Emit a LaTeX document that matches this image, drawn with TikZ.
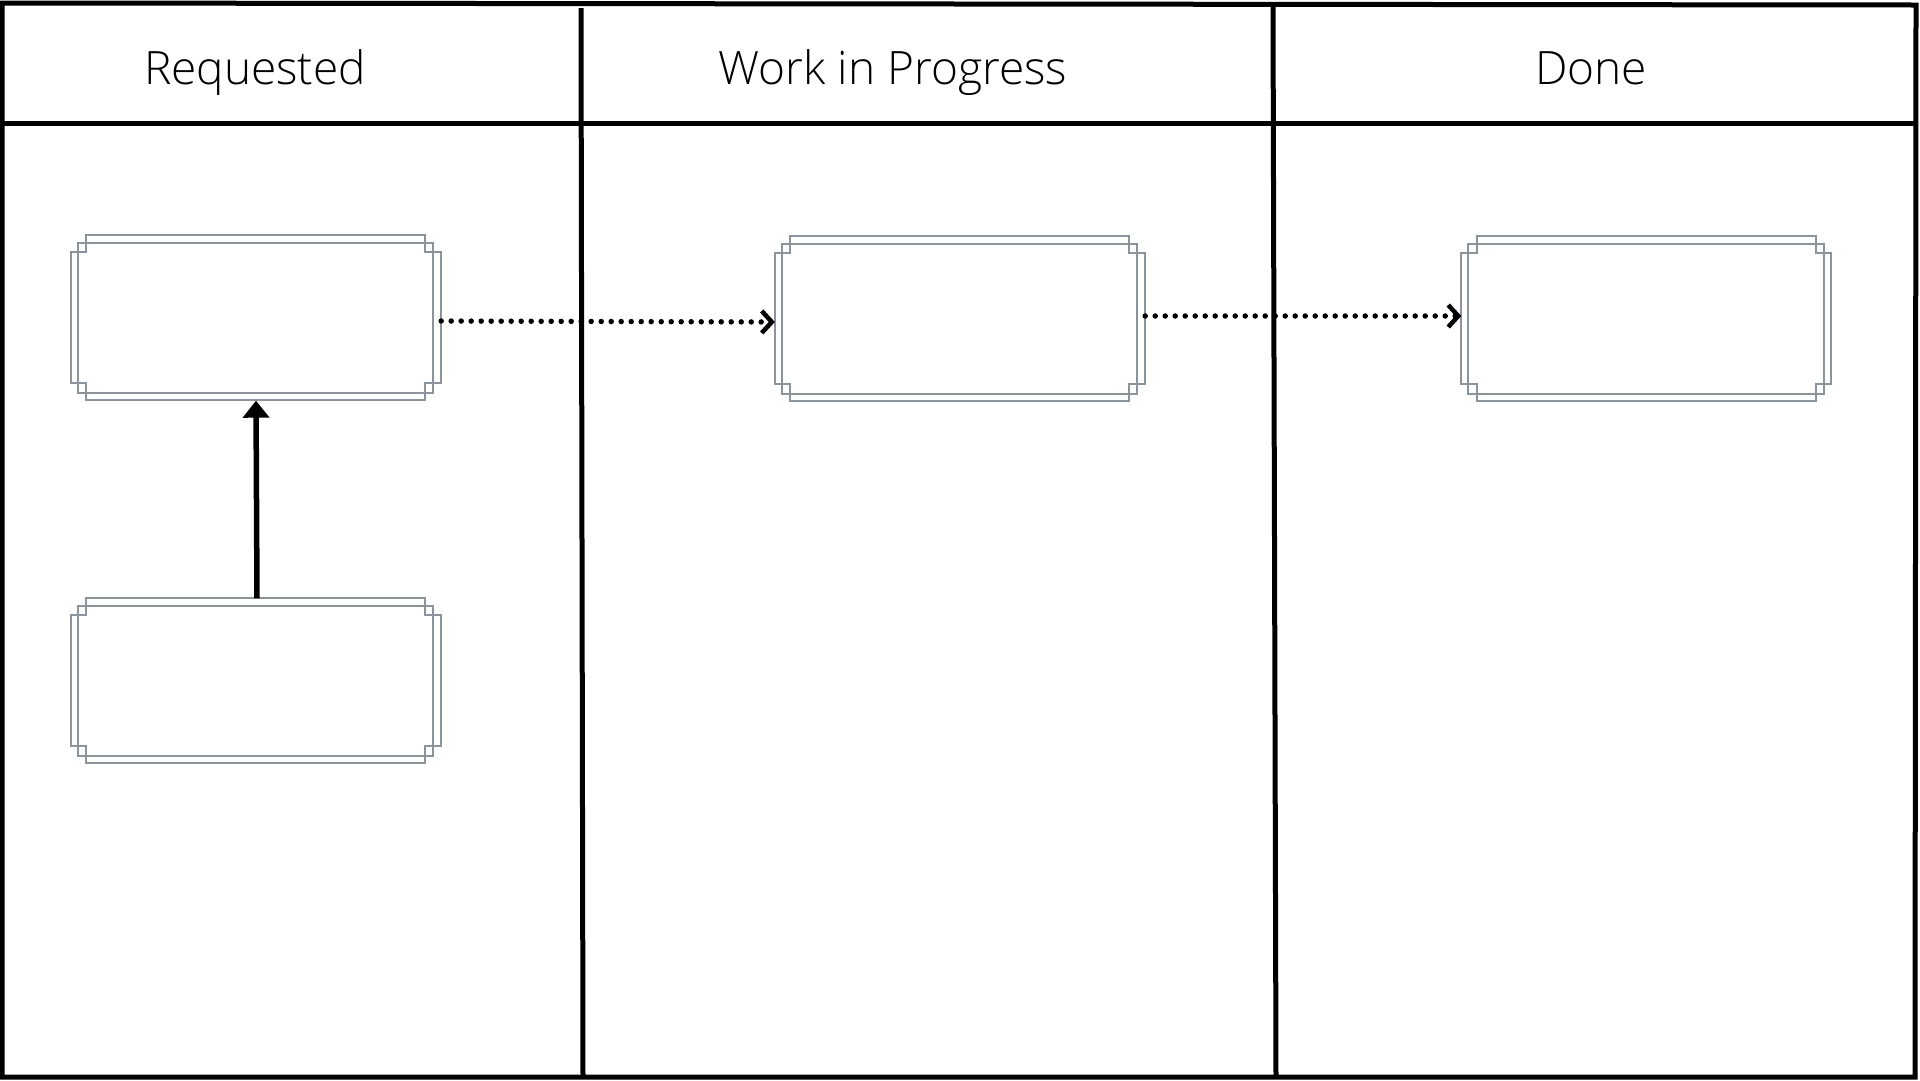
\documentclass[tikz,border=0pt]{standalone}
\usepackage{fontspec}
\setmainfont{Open Sans}
\newfontfamily\lightfont{Open Sans Light}
\usepackage{xcolor}
\usetikzlibrary{calc,arrows.meta}

\definecolor{cardgrey}{RGB}{138,148,158}

\tikzset{
  lane/.style={line width=5pt, line join=miter},
  card/.style={minimum width=370pt, minimum height=165pt, inner sep=0pt},
  cardline/.style={draw=cardgrey, line width=2pt},
  head/.style={anchor=base, font=\lightfont\fontsize{46}{56}\selectfont},
  move/.style={line width=5.5pt, dash pattern=on 0pt off 10pt, line cap=round,
    -{Straight Barb[length=10pt,width=22pt,line width=4.5pt]}},
  push/.style={line width=5.5pt, -{Triangle[length=17pt,width=26pt]}}
}

% a card: notched outer frame and an inner rectangle
\newcommand{\kcard}[2]{%
  \node[card] (#1) at (#2) {};
  \draw[cardline] ($(#1.north west)+(15.5,0)$) -- ++(339,0) -- ++(0,17) -- ++(15.5,0)
    -- ++(0,131) -- ++(-15.5,0) -- ++(0,17) -- ++(-339,0) -- ++(0,-17)
    -- ++(-15.5,0) -- ++(0,-131) -- ++(15.5,0) -- cycle;
  \draw[cardline] ($(#1.north west)+(7,8)$) rectangle ($(#1.south east)+(-8,-8)$);
}

\begin{document}
\begin{tikzpicture}[x=1pt,y=-1pt]
	\useasboundingbox (0,0) rectangle (1920,1080);
	% board
	\draw[lane] (2,3) -- (1916,5) -- (1915,1077) -- (2,1077) -- cycle;
	\draw[lane] (2,123) -- (1916,123);
	\draw[lane] (581,8) -- (583,1077);
	\draw[lane] (1273,5) -- (1276,1077);
	% column titles
	\node[head] (hreq) at (255,84) {Requested};
	\node[head] (hwip) at (893,84) {Work in Progress};
	\node[head] (hdone) at (1591,84) {Done};
	% cards
	\kcard{req}{256,318}
	\kcard{backlog}{256,681}
	\kcard{wip}{960,319}
	\kcard{done}{1646.5,319}
	\draw[push] ($(backlog.north)+(1,0)$) -- (req.south);
	\draw[move] ($(req.east)+(0,3)$) -- ($(wip.west)+(0,3)$);
	\draw[move] ($(wip.east)+(0,-3)$) -- ($(done.west)+(0,-3)$);
\end{tikzpicture}
\end{document}
